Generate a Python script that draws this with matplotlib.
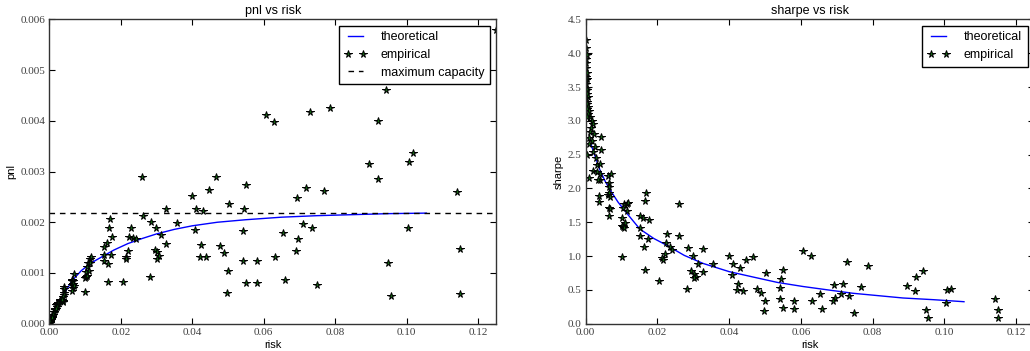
import numpy as np
import matplotlib
matplotlib.use('Agg')
import matplotlib.pyplot as plt

# empirical points (risk, pnl, sharpe)
risk = [0.0001, 0.0002, 0.0003, 0.0001, 0.0001, 0.0002, 0.0003, 0.0002, 0.0004, 0.0001,
        0.0002, 0.0005, 0.0003, 0.0004, 0.0006, 0.0002, 0.0005, 0.0004, 0.0007, 0.0003,
        0.0009, 0.0006, 0.0012, 0.0005, 0.0019, 0.0021, 0.0015, 0.0013, 0.0023, 0.0010,
        0.0017, 0.0008, 0.0025, 0.0021, 0.0003, 0.0029, 0.0031, 0.0020, 0.0008, 0.0033,
        0.0042, 0.0042, 0.0041, 0.0040, 0.0039, 0.0037, 0.0037, 0.0035,
        0.0063, 0.0063, 0.0064, 0.0066, 0.0065, 0.0067, 0.0070, 0.0066, 0.0064, 0.0069,
        0.0101, 0.0100, 0.0103, 0.0106, 0.0102, 0.0104, 0.0107, 0.0114, 0.0117, 0.0115, 0.0111,
        0.0260, 0.0466, 0.0919, 0.0549, 0.0447, 0.0719, 0.0769, 0.1142, 0.0400, 0.0693,
        0.0502, 0.0326, 0.0410, 0.0430, 0.0544, 0.0261, 0.0284, 0.0169, 0.0356, 0.0166,
        0.0228, 0.0299, 0.0711, 0.0735, 0.1004, 0.0408, 0.0542, 0.0653, 0.0312, 0.0176,
        0.0224, 0.0234, 0.0242, 0.0696, 0.0161, 0.0152, 0.0326, 0.0424, 0.0477, 0.0220,
        0.0295, 0.0691, 0.0489, 0.0301, 0.0173, 0.0152, 0.0307, 0.0214, 0.0422, 0.0438,
        0.0631, 0.0301, 0.0215, 0.0152, 0.0543, 0.0580, 0.0164, 0.0949, 0.1149, 0.0501,
        0.0165, 0.0205, 0.0282, 0.0549, 0.0580, 0.0660, 0.0748, 0.0498, 0.0955, 0.1150,
        0.1249, 0.0941, 0.0607, 0.0629, 0.0729, 0.0786, 0.0921, 0.1018, 0.1007, 0.0895]

pnl = [0.0000265, 0.0000514, 0.0000752, 0.0000247, 0.0000243, 0.0000476, 0.0000699, 0.0000460, 0.0000912, 0.0000227,
       0.0000447, 0.000110, 0.0000652, 0.0000857, 0.000127, 0.0000420, 0.000103, 0.0000819, 0.000141, 0.0000601,
       0.000179, 0.000117, 0.000231, 0.0000961, 0.000359, 0.000390, 0.000274, 0.000233, 0.000406, 0.000173,
       0.000289, 0.000134, 0.000413, 0.000336, 0.0000473, 0.000448, 0.000459, 0.000285, 0.000108, 0.000468,
       0.00073, 0.00068, 0.00061, 0.00056, 0.00052, 0.00044, 0.00042, 0.00047,
       0.00076, 0.00087, 0.00084, 0.00084, 0.00079, 0.00079, 0.00098, 0.00071, 0.00064, 0.00074,
       0.00063, 0.00091, 0.00093, 0.00095, 0.00101, 0.00112, 0.00119, 0.00127, 0.00131, 0.00120, 0.00104,
       0.00290, 0.00290, 0.00285, 0.00273, 0.00264, 0.00268, 0.00262, 0.00260, 0.00252, 0.00248,
       0.00236, 0.00227, 0.00227, 0.00223, 0.00226, 0.00212, 0.00200, 0.00206, 0.00198, 0.00189,
       0.00189, 0.00189, 0.00196, 0.00189, 0.00189, 0.00184, 0.00182, 0.00179, 0.00175, 0.00170,
       0.00170, 0.00168, 0.00166, 0.00166, 0.00159, 0.00152, 0.00158, 0.00155, 0.00153, 0.00143,
       0.00145, 0.00144, 0.00139, 0.00141, 0.00136, 0.00136, 0.00133, 0.00131, 0.00132, 0.00132,
       0.00131, 0.00128, 0.00127, 0.00124, 0.00123, 0.00124, 0.00118, 0.00119, 0.00147, 0.00104,
       0.00082, 0.00082, 0.00093, 0.00080, 0.00080, 0.00086, 0.00076, 0.00060, 0.00054, 0.00058,
       0.00579, 0.00460, 0.00412, 0.00397, 0.00417, 0.00426, 0.00399, 0.00336, 0.00318, 0.00315]

sharpe = [4.20, 4.08, 3.98, 3.92, 3.85, 3.78, 3.70, 3.65, 3.62, 3.60,
          3.55, 3.48, 3.45, 3.40, 3.35, 3.33, 3.28, 3.25, 3.20, 3.18,
          3.15, 3.10, 3.05, 3.05, 3.00, 2.95, 2.90, 2.84, 2.80, 2.75,
          2.70, 2.65, 2.62, 2.54, 2.50, 2.45, 2.35, 2.26, 2.15, 2.25,
          2.76, 2.57, 2.36, 2.22, 2.12, 1.89, 1.80, 2.13,
          1.91, 2.19, 2.08, 2.02, 1.93, 1.87, 2.22, 1.71, 1.59, 1.70,
          0.99, 1.44, 1.43, 1.42, 1.57, 1.71, 1.77, 1.77, 1.78, 1.66, 1.49,
          1.77, 0.99, 0.49, 0.79, 0.94, 0.59, 0.54, 0.36, 1.00, 0.57,
          0.75, 1.11, 0.88, 0.82, 0.66, 1.29, 1.12, 1.93, 0.88, 1.81,
          1.32, 1.00, 0.44, 0.41, 0.30, 0.72, 0.53, 0.44, 0.89, 1.53,
          1.20, 1.14, 1.09, 0.38, 1.57, 1.59, 0.77, 0.58, 0.51, 1.03,
          0.78, 0.33, 0.45, 0.74, 1.25, 1.42, 0.69, 0.97, 0.50, 0.48,
          0.33, 0.67, 0.94, 1.29, 0.36, 0.34, 1.14, 0.20, 0.20, 0.33,
          0.79, 0.63, 0.52, 0.23, 0.22, 0.21, 0.16, 0.19, 0.09, 0.08,
          0.74, 0.78, 1.08, 1.00, 0.91, 0.86, 0.69, 0.52, 0.50, 0.56]

# theoretical curves
theo_risk_pnl = [0.0, 0.002, 0.004, 0.0065, 0.009, 0.012, 0.015, 0.018, 0.022, 0.026,
                 0.030, 0.035, 0.040, 0.047, 0.055, 0.065, 0.075, 0.085, 0.095, 0.1055]
theo_pnl = [0.0, 0.00032, 0.00058, 0.00086, 0.00105, 0.00121, 0.00133, 0.00145, 0.00158, 0.00168,
            0.00177, 0.00186, 0.00193, 0.00200, 0.00205, 0.00210, 0.00213, 0.00215, 0.00217, 0.00218]
theo_risk_sharpe = [0.0015, 0.003, 0.004, 0.0055, 0.0068, 0.009, 0.0123, 0.0151, 0.019, 0.0226, 0.0275,
                    0.0328, 0.040, 0.0467, 0.0535, 0.0606, 0.0675, 0.0745, 0.0815, 0.0885, 0.097, 0.1055]
theo_sharpe = [2.65, 2.42, 2.27, 2.10, 1.98, 1.80, 1.58, 1.40, 1.26, 1.16, 1.01,
               0.89, 0.77, 0.69, 0.61, 0.55, 0.50, 0.45, 0.415, 0.38, 0.355, 0.325]
max_capacity = 0.00218

plt.rcParams['font.family'] = 'Liberation Serif'
sans = 'Liberation Sans'

fig = plt.figure(figsize=(10.3, 3.51), dpi=100, facecolor='white')
ax1 = fig.add_axes([0.0479, 0.0778, 0.4337, 0.867])
ax2 = fig.add_axes([0.5686, 0.0778, 0.4352, 0.867])

star = dict(linestyle='none', marker='*', markersize=5.5, markerfacecolor='#0e6a0e',
            markeredgecolor='black', markeredgewidth=0.7)

ax1.plot(theo_risk_pnl, theo_pnl, color='b', lw=1, label='theoretical')
ax1.plot(risk, pnl, label='empirical', **star)
ax1.axhline(max_capacity, color='k', lw=1, dashes=(4, 3.5), label='maximum capacity')
ax1.set_xlim(0, 0.125)
ax1.set_ylim(0, 0.006)
ax1.set_xticks(np.arange(0, 0.121, 0.02))
ax1.set_yticks(np.arange(0, 0.0061, 0.001))
ax1.set_xticklabels(['%.2f' % v for v in np.arange(0, 0.121, 0.02)])
ax1.set_yticklabels(['%.3f' % v for v in np.arange(0, 0.0061, 0.001)])
ax1.set_title('pnl vs risk', fontsize=9, family=sans, pad=4)
ax1.set_xlabel('risk', fontsize=8, family=sans, labelpad=2)
ax1.set_ylabel('pnl', fontsize=8, family=sans, labelpad=3)

ax2.plot(theo_risk_sharpe, theo_sharpe, color='b', lw=1, label='theoretical')
ax2.plot(risk, sharpe, label='empirical', **star)
ax2.set_xlim(0, 0.125)
ax2.set_ylim(0, 4.5)
ax2.set_xticks(np.arange(0, 0.121, 0.02))
ax2.set_yticks(np.arange(0, 4.51, 0.5))
ax2.set_xticklabels(['%.2f' % v for v in np.arange(0, 0.121, 0.02)])
ax2.set_yticklabels(['%.1f' % v for v in np.arange(0, 4.51, 0.5)])
ax2.set_title('sharpe vs risk', fontsize=9, family=sans, pad=4)
ax2.set_xlabel('risk', fontsize=8, family=sans, labelpad=2)
ax2.set_ylabel('sharpe', fontsize=8, family=sans, labelpad=3)

for ax in (ax1, ax2):
    ax.tick_params(direction='in', length=4, width=0.8, top=True, right=True,
                   labelsize=8, labelcolor='0.25', pad=3)
    for s in ax.spines.values():
        s.set_linewidth(1.0)
        s.set_color('0.2')
    leg = ax.legend(loc='upper right', numpoints=2, fancybox=False, framealpha=1,
                    prop={'family': sans, 'size': 9}, handlelength=1.8,
                    handletextpad=1.1, borderpad=0.45, labelspacing=0.45, borderaxespad=0.5)
    leg.get_frame().set_edgecolor('black')
    leg.get_frame().set_linewidth(1.0)

fig.savefig('out.png', dpi=100)
